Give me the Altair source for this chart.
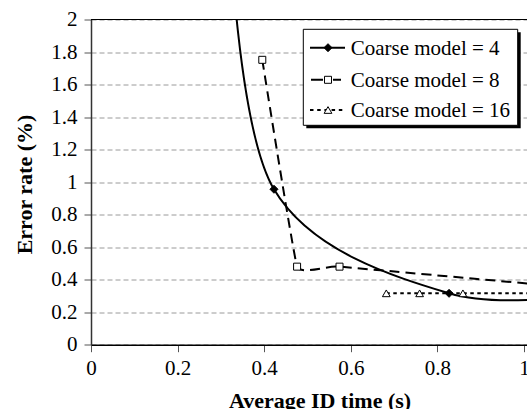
import altair as alt
import pandas as pd

# ---- data ----
series_names = ["Coarse model = 4", "Coarse model = 8", "Coarse model = 16"]
x_m4 = [0.32, 0.4226, 0.827, 1.2]
y_m4 = [2.6, 0.956, 0.316, 0.33]
x_m8 = [0.3956, 0.476, 0.574, 1.2]
y_m8 = [1.752, 0.48, 0.48, 0.33]
x_m16 = [0.682, 0.759, 0.859, 1.15]
y_m16 = [0.316, 0.316, 0.316, 0.316]
x_ticks = [0, 0.2, 0.4, 0.6, 0.8, 1.0]
y_ticks = [0, 0.2, 0.4, 0.6, 0.8, 1.0, 1.2, 1.4, 1.6, 1.8, 2.0]
x_title = "Average ID time (s)"
y_title = "Error rate (%)"

rows = []
for name, xs, ys in zip(series_names, [x_m4, x_m8, x_m16], [y_m4, y_m8, y_m16]):
    for i, (a, b) in enumerate(zip(xs, ys)):
        rows.append({"series": name, "x": a, "y": b, "i": i})
df = pd.DataFrame(rows)

FONT = "Liberation Serif"
W, H = 436, 325.2


def xenc():
    return alt.X(
        "x:Q",
        title=x_title,
        scale=alt.Scale(domain=[0, 1.007], nice=False, zero=False),
        axis=alt.Axis(
            values=x_ticks, format="~g", grid=False, labelFlush=False,
            labelFont=FONT, labelFontSize=21, labelFontWeight="normal", labelColor="black",
            labelPadding=6, tickSize=7, tickColor="#555", domainColor="black", domainWidth=1.5,
            titleFont=FONT, titleFontSize=22, titleFontWeight="bold", titleColor="black",
            titleX=228.5, titleY=62.8, titleAlign="center", titleBaseline="alphabetic",
        ),
    )


def yenc():
    return alt.Y(
        "y:Q",
        title=y_title,
        scale=alt.Scale(domain=[0, 2], nice=False, zero=False),
        axis=alt.Axis(
            values=y_ticks, format="~g", grid=True, gridDash=[5, 3], gridColor="#9a9a9a",
            gridWidth=1, labelFont=FONT, labelFontSize=21, labelFontWeight="normal",
            labelColor="black", labelPadding=7,
            tickSize=7, tickColor="#555", domainColor="#333", domainWidth=1.5,
            titleFont=FONT, titleFontSize=22, titleFontWeight="bold", titleColor="black",
            titleAngle=270, titleX=-59.3, titleY=164.5, titleAlign="center",
            titleBaseline="alphabetic",
        ),
    )


base = alt.Chart(df)


def sel(name):
    return base.transform_filter(alt.datum.series == name)


line4 = sel(series_names[0]).mark_line(
    color="black", strokeWidth=2, interpolate="cardinal", tension=0, clip=True
).encode(x=xenc(), y=yenc(), order="i:Q")
line8 = sel(series_names[1]).mark_line(
    color="black", strokeWidth=2, strokeDash=[10, 6], interpolate="cardinal", tension=0.75, clip=True
).encode(x=xenc(), y=yenc(), order="i:Q")
line16 = sel(series_names[2]).mark_line(
    color="black", strokeWidth=2, strokeDash=[3.5, 3.5], clip=True
).encode(x=xenc(), y=yenc(), order="i:Q")

pts4 = sel(series_names[0]).mark_point(
    shape="diamond", filled=True, fill="black", stroke="black", strokeWidth=1, size=64, opacity=1, clip=True
).encode(x=xenc(), y=yenc())
pts8 = sel(series_names[1]).mark_point(
    shape="square", filled=True, fill="white", stroke="black", strokeWidth=1, size=49, opacity=1, clip=True
).encode(x=xenc(), y=yenc())
pts16 = sel(series_names[2]).mark_point(
    shape="triangle-up", filled=True, fill="white", stroke="black", strokeWidth=1, size=60, opacity=1, clip=True
).encode(x=xenc(), y=yenc())

one = pd.DataFrame({"k": [0]})

top_border = alt.Chart(one).mark_rule(color="black", strokeWidth=1.2).encode(
    x=alt.value(0), x2=alt.value(W), y=alt.value(0)
)

# ---- legend (drawn by hand) ----
shadow = alt.Chart(one).mark_rect(color="black").encode(
    x=alt.value(215.3), x2=alt.value(429.7), y=alt.value(12.8), y2=alt.value(108.8)
)
box = alt.Chart(one).mark_rect(fill="white", stroke="black", strokeWidth=1).encode(
    x=alt.value(212.3), x2=alt.value(426.7), y=alt.value(9.8), y2=alt.value(105.8)
)

leg_line_y = [28.2, 60.3, 90.5]
leg_text_y = [35.5, 67.0, 97.0]
leg_dash = [None, [12, 10], [3.5, 3.7]]
leg_span = [(219, 254), (220, 250), (219, 253)]
leg_shape = ["diamond", "square", "triangle-up"]
leg_fill = ["black", "white", "white"]
leg_size = [64, 49, 60]

legend_layers = []
for k in range(3):
    rule_kw = dict(color="black", strokeWidth=2)
    if leg_dash[k] is not None:
        rule_kw["strokeDash"] = leg_dash[k]
    legend_layers.append(
        alt.Chart(one).mark_rule(**rule_kw).encode(
            x=alt.value(leg_span[k][0]), x2=alt.value(leg_span[k][1]), y=alt.value(leg_line_y[k])
        )
    )
    legend_layers.append(
        alt.Chart(one).mark_point(
            shape=leg_shape[k], filled=True, fill=leg_fill[k], stroke="black",
            strokeWidth=1, size=leg_size[k], opacity=1
        ).encode(x=alt.value(237), y=alt.value(leg_line_y[k]))
    )
    legend_layers.append(
        alt.Chart(one).mark_text(
            text=series_names[k], align="left", baseline="alphabetic",
            font=FONT, fontSize=21, color="black"
        ).encode(x=alt.value(259.7), y=alt.value(leg_text_y[k]))
    )

chart = alt.layer(
    line16, line8, line4, pts16, pts8, pts4, top_border, shadow, box, *legend_layers
).properties(
    width=W, height=H,
    autosize=alt.AutoSizeParams(type="none"),
    padding={"left": 91, "top": 19.5, "right": 0, "bottom": 64.3},
    background="white",
).configure(
    font=FONT
).configure_axis(
    labelFont=FONT, titleFont=FONT
).configure_text(
    font=FONT
).configure_view(stroke=None)

chart.save("out.html", embed_options={"renderer": "svg", "actions": False})
